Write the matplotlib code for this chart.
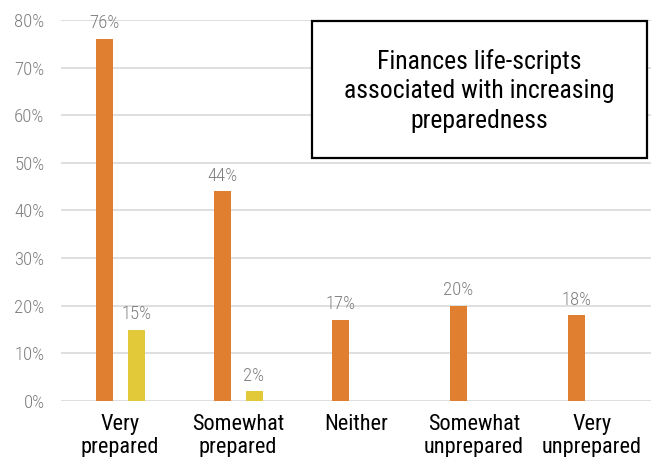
import matplotlib
matplotlib.use('Agg')
import matplotlib.pyplot as plt
import numpy as np
from matplotlib.patches import Rectangle

# ─── Data ─────────────────────────────────────────────────────────────────────

categories = ['Very\nprepared', 'Somewhat\nprepared', 'Neither',
              'Somewhat\nunprepared', 'Very\nunprepared']
series_a = [76, 44, 17, 20, 18]      # orange
series_b = [15, 2, None, None, None]  # yellow (only first two groups)
yticks = [0, 10, 20, 30, 40, 50, 60, 70, 80]
title_text = 'Finances life-scripts\nassociated with increasing\npreparedness'

ORANGE = '#e07f30'
YELLOW = '#e2c93a'
GRID = '#d9d9d9'
GREY_TEXT = '#7f7f7f'

plt.rcParams['font.family'] = ['Roboto Condensed', 'DejaVu Sans']

fig = plt.figure(figsize=(6.51, 4.57), dpi=100)
ax = fig.add_axes([0.094, 0.1225, 0.906, 0.834])

x = np.arange(len(categories))
offset = 0.135
width = 0.145

ax.bar(x - offset, series_a, width=width, color=ORANGE, zorder=3)
for xi, v in zip(x, series_a):
    ax.text(xi - offset, v + 1.4, f'{v}%', ha='center', va='bottom',
            fontsize=13.5, color=GREY_TEXT, fontweight='light')

for xi, v in zip(x, series_b):
    if v is None:
        continue
    ax.bar(xi + offset, v, width=width, color=YELLOW, zorder=3)
    ax.text(xi + offset, v + 1.4, f'{v}%', ha='center', va='bottom',
            fontsize=13.5, color=GREY_TEXT, fontweight='light')

ax.set_xlim(-0.5, 4.5)
ax.set_ylim(0, 80)
ax.set_yticks(yticks)
ax.set_yticklabels([f'{t}%' for t in yticks], fontsize=13.5, color=GREY_TEXT,
                   fontweight='light')
ax.set_xticks(x)
ax.set_xticklabels(categories, fontsize=16, color='black', linespacing=1.15)
ax.tick_params(axis='both', length=0)
ax.tick_params(axis='x', pad=9)
ax.tick_params(axis='y', pad=12)

ax.grid(axis='y', color=GRID, linewidth=1.2, zorder=0)
ax.set_axisbelow(True)
for side in ['top', 'right', 'left', 'bottom']:
    ax.spines[side].set_visible(False)

# Title box in the upper right
box = Rectangle((312 / 651, 1 - 158 / 457), (647 - 312) / 651, (158 - 21) / 457,
                transform=fig.transFigure, facecolor='white', edgecolor='black',
                linewidth=1.6, zorder=5)
fig.patches.append(box)
fig.text((312 + 647) / 2 / 651, 1 - 91 / 457, title_text, ha='center', va='center',
         fontsize=18.5, color='black', linespacing=1.3, zorder=6)

fig.savefig('out.png', dpi=100)
